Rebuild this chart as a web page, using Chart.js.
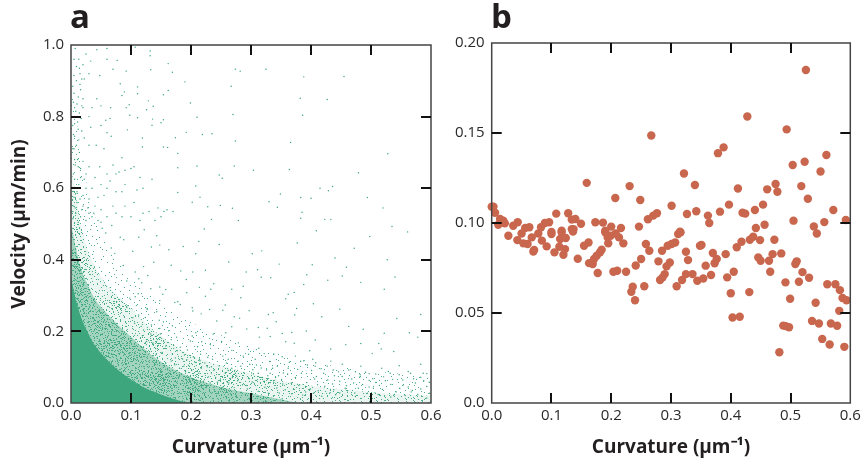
<!DOCTYPE html>
<html><head><meta charset="utf-8">
<script src="https://cdn.jsdelivr.net/npm/chart.js@4"></script>
<style>
html,body{margin:0;padding:0;background:#fff;width:865px;height:459px;overflow:hidden}
canvas{position:absolute;top:0}
#ca{left:0}#cb{left:446px}
.p{position:absolute;top:-7px;font:700 33px "Open Sans",sans-serif;color:#231f20}
</style></head><body>
<canvas id="ca" width="446" height="459"></canvas>
<canvas id="cb" width="419" height="459"></canvas>
<div class="p" style="left:70px">a</div>
<div class="p" style="left:491px">b</div>
<script>
const xTickLabels=['0.0','0.1','0.2','0.3','0.4','0.5','0.6'];
const aYTickLabels=['0.0','0.2','0.4','0.6','0.8','1.0'];
const bYTickLabels=['0.0','0.05','0.10','0.15','0.20'];
const xInnerTicks=[.1,.2,.3,.4,.5];
const aInnerTicks=[.2,.4,.6,.8];
const bInnerTicks=[.05,.1,.15];
const xTitle='Curvature (\u00b5m\u207b\u00b9)';
const yTitle='Velocity (\u00b5m/min)';
// panel a: density contours, densest first
const coreEdge=[[0,.35],[.005,.31],[.01,.275],[.02,.225],[.03,.19],[.04,.16],[.06,.12],[.08,.09],[.1,.065],[.12,.045],[.15,.024],[.17,.012],[.19,.003],[.2,0]];
const denseEdge=[[0,.5],[.01,.42],[.02,.36],[.04,.29],[.06,.25],[.08,.215],[.1,.185],[.13,.14],[.16,.105],[.2,.072],[.25,.045],[.3,.027],[.35,.01],[.38,0]];
const midEdge=[[0,.66],[.01,.56],[.02,.47],[.04,.38],[.06,.33],[.08,.295],[.1,.265],[.13,.215],[.16,.175],[.2,.135],[.25,.105],[.3,.082],[.35,.062],[.4,.048],[.5,.03],[.6,.02]];
const paleEdge=[[0,.88],[.01,.78],[.02,.66],[.04,.52],[.06,.44],[.1,.35],[.15,.28],[.2,.225],[.3,.16],[.4,.115],[.5,.09],[.6,.075]];
// speckle tile for the density bands: pixel offsets, x then y
const speckle=[3,7,41,2,17,29,50,44,8,36,27,11,35,48,12,19,46,25,22,40,31,4,6,51,38,33,14,1,24,20,43,14,1,27,19,46,33,23,10,12,48,6,28,37,5,43,40,39,16,9,37,17,21,32,51,30,9,24,30,45,45,8,13,42,26,2,2,15,35,28,42,49,18,52,7,3,47,35,23,25,32,13,11,32,39,42,0,38,15,15,50,20,29,50,4,22,36,6,20,5,44,31,12,47,33,35,25,43,41,11,8,9,48,47,16,33,28,17,1,50,39,24,21,13,6,30,46,2,31,39,10,5,34,19,23,48,44,18,14,26,3,35,40,46,27,28,52,10,19,40,37,0,9,17,30,7,43,27,5,11,24,34,35,43,49,37,15,45,26,8,0,21,41,33,18,22,32,51,11,41,47,16,22,3,36,31,7,47,29,21,42,5,13,36,51,25,25,52,38,13,4,28,33,10,17,6,45,40,20,44,8,20,31,26,0,44,40,18,14,50,28,31,49,1,23,15,37,38,10,38,3,2,19,25,34,47,46,12,26,39,6,14,42,22,16,52,52,34,12,4,29,42,35,15,21,37,1,9,39,7,9,50,44,45,30,23,18,12,48,29,24,0,33,41,5,35,15,30,38,49,27,18];
// panel a: individually read dots, x then y
const topDots=[.007,.99,.043,.987,.06,.99,.107,.994,.132,.983,.132,.97,.06,.96,.077,.957,.07,.932,.092,.927,.133,.931,.162,.948,.169,.924,.19,.897,.274,.932,.282,.927,.325,.932,.388,.911,.455,.912,.267,.885,.382,.851,.427,.848,.27,.806,.386,.804,.274,.732,.366,.728,.528,.696,.272,.662,.304,.65,.364,.652,.479,.643,.21,.662,.247,.637,.252,.628,.415,.6,.429,.593,.436,.605,.349,.584,.383,.574,.4,.572,.494,.574,.52,.545,.33,.562,.344,.547,.385,.533,.423,.513,.433,.513,.383,.516,.279,.51,.249,.552,.269,.544,.234,.513,.228,.548,.215,.575,.208,.606,.202,.561,.178,.588,.178,.657,.178,.697,.174,.741,.192,.756,.219,.75,.235,.752,.21,.798,.199,.838,.154,.715,.161,.714,.119,.74,.119,.715,.154,.791,.15,.783,.136,.793,.135,.776,.137,.829,.126,.819,.129,.844,.111,.883,.111,.864,.162,.873,.154,.861,.082,.892,.089,.869,.085,.859,.092,.825,.097,.833,.098,.804,.111,.797,.094,.763,.065,.795,.05,.775,.06,.755,.067,.745,.058,.79,.066,.825,.05,.83,.043,.85,.035,.825,.02,.825,.033,.77,.03,.8,.048,.915,.03,.92,.015,.92,.022,.905,.015,.89,.033,.955,.025,.975,.013,.96,.02,.945,.005,.96,.009,.94,.016,.875,.005,.865,.012,.855,.02,.85,.004,.84,.01,.835,.008,.815,.003,.8,.017,.795,.006,.78,.012,.765,.004,.75,.022,.74,.009,.72,.003,.71,.014,.70,.03,.72,.042,.72,.055,.71,.08,.645,.085,.685,.07,.665,.048,.66,.03,.66,.02,.675,.006,.68,.012,.66,.004,.64,.016,.63,.025,.64,.04,.63,.06,.64,.065,.62,.075,.64,.1,.655,.105,.66,.09,.65,.115,.63,.135,.625,.09,.61,.085,.59,.075,.59,.06,.6,.05,.61,.035,.6,.025,.6,.013,.61,.004,.6,.008,.585,.02,.58,.03,.57,.045,.575,.055,.58,.11,.595,.12,.6,.105,.56,.09,.55,.085,.52,.1,.52,.12,.53,.13,.535,.145,.545,.155,.535,.16,.54,.17,.535,.14,.51,.15,.52,.115,.51,.07,.55,.075,.53,.06,.52,.05,.54,.04,.55,.03,.53,.02,.55,.01,.56,.004,.55,.008,.53,.016,.52,.025,.51,.035,.52,.045,.51,.05,.505,.003,.515,.012,.505,.006,.625,.01,.59,.015,.57,.005,.575,.018,.54,.007,.545,.028,.545,.038,.53,.003,.535,.011,.68,.016,.655,.007,.665,.022,.625,.005,.71,.013,.735,.006,.745,.018,.76,.003,.775,.011,.785,.014,.81,.006,.825,.018,.83,.003,.885,.009,.9,.005,.915,.014,.935,.018,.905];
const upperDots=[.535,.493,.561,.478,.498,.465,.472,.432,.409,.481,.377,.447,.44,.405,.459,.379,.527,.4,.54,.352,.522,.318,.483,.337,.452,.355,.428,.343,.402,.386,.388,.331,.393,.358,.318,.425,.347,.388,.302,.417,.311,.372,.292,.366,.317,.351,.263,.394,.247,.443,.222,.486,.213,.451,.208,.417,.187,.437,.203,.366,.224,.371,.238,.333,.268,.318,.287,.326,.333,.35,.362,.304,.372,.309,.404,.277,.376,.264,.358,.291,.337,.252,.373,.246,.342,.227,.329,.247,.297,.258,.283,.294,.257,.274,.233,.318,.214,.323,.192,.345,.183,.369,.167,.385,.163,.428,.148,.441,.143,.467,.122,.484,.113,.463,.134,.436,.138,.393,.121,.381,.103,.424,.088,.456,.082,.463,.068,.496,.058,.475,.052,.488,.067,.433,.073,.418,.087,.384,.107,.366,.113,.347,.128,.356,.148,.324,.158,.317,.178,.283,.193,.308,.202,.266,.224,.298,.231,.261,.253,.259,.272,.241,.281,.237,.312,.211,.327,.209,.352,.194,.368,.197,.392,.201,.418,.241,.448,.262,.463,.214,.487,.206,.513,.166,.522,.195,.543,.236,.583,.247,.578,.184,.564,.196,.517,.151,.538,.144,.502,.138,.483,.166,.458,.163,.433,.151,.407,.176,.398,.146,.372,.167,.358,.171,.332,.186,.314,.184,.293,.207,.268,.213,.258,.196,.243,.229,.217,.249,.203,.257,.182,.275,.173,.281,.153,.304,.148,.286,.133,.319,.118,.336,.112,.305,.093,.341,.107,.297,.127,.264,.143,.255,.147,.231,.169,.216,.237,.193,.202,.187,.208,.196,.218,.171,.232,.163,.251,.172,.268,.147,.279,.168,.296,.136,.313,.153,.322,.138,.338,.137,.352,.129,.374,.131,.388,.118,.403,.122,.407,.103,.433,.117,.437,.092,.452,.108,.474,.087,.483,.103,.497,.082,.518,.097,.532,.083,.547,.104,.562,.088,.583,.108,.593,.082];
const lowDots=[.213,.083,.352,.012,.468,.067,.127,.262,.598,.027,.287,.131,.076,.283,.409,.074,.181,.097,.533,.052,.239,.037,.448,.028,.103,.238,.326,.092,.566,.083,.194,.148,.144,.177,.418,.019,.267,.024,.504,.041,.383,.117,.093,.267,.227,.101,.312,.033,.588,.062,.163,.202,.341,.071,.474,.018,.216,.136,.117,.214,.391,.046,.259,.112,.557,.021,.301,.084,.436,.053,.158,.111,.521,.073,.198,.063,.362,.097,.278,.062,.133,.193,.412,.034,.234,.084,.583,.039,.171,.161,.329,.027,.497,.063,.109,.272,.254,.046,.446,.087,.367,.056,.186,.123,.298,.108,.542,.031,.221,.061,.148,.208,.401,.091,.274,.083,.479,.041,.124,.239,.338,.058,.574,.056,.207,.113,.319,.071,.428,.064,.176,.184,.249,.067,.512,.024,.386,.022,.141,.152,.293,.049,.463,.092,.098,.293,.357,.037,.236,.122,.553,.064,.169,.137,.421,.083,.283,.103,.593,.014,.191,.087,.344,.103,.491,.086,.119,.188,.262,.091,.374,.071,.438,.037,.204,.077,.307,.122,.529,.088,.154,.226,.393,.057,.244,.058,.481,.072,.137,.168,.332,.083,.569,.035,.226,.047,.411,.051,.179,.072,.272,.043,.508,.057,.364,.114,.113,.246,.459,.048,.297,.068,.211,.157,.547,.079,.384,.083,.152,.141,.253,.131,.427,.103,.323,.044,.188,.103,.494,.027,.134,.218,.347,.028,.583,.072,.241,.071,.404,.027,.167,.117,.288,.085,.452,.074,.519,.038,.217,.097,.372,.038,.126,.172,.317,.098,.536,.066,.199,.173,.263,.056,.441,.023,.351,.066,.593,.046,.177,.146,.279,.117,.471,.056,.106,.223,.229,.073,.394,.106,.508,.081,.146,.166,.331,.116,.562,.045,.204,.129,.302,.059,.423,.047,.161,.093,.247,.104,.486,.052,.378,.094,.121,.204,.354,.084,.578,.024,.232,.056,.417,.096,.189,.134,.269,.071,.533,.017,.343,.042,.144,.127,.461,.034,.286,.051,.201,.091,.553,.049,.399,.039,.173,.107,.312,.083,.503,.068,.257,.083,.131,.143,.368,.026,.448,.061,.223,.112,.587,.083,.294,.039,.167,.177,.524,.062,.336,.097,.212,.071,.406,.067,.149,.193,.268,.097,.482,.079,.381,.051,.184,.081,.322,.061,.548,.041,.239,.093,.439,.076,.158,.159,.303,.093,.571,.068,.196,.105,.353,.053,.276,.075,.473,.028,.228,.128,.391,.031,.514,.049,.142,.136,.254,.038,.328,.076,.193,.121,.432,.029,.283,.029,.597,.058,.174,.126,.361,.081,.497,.045,.215,.118,.408,.112,.539,.024,.262,.122,.309,.106,.182,.156,.457,.041,.346,.076,.234,.101,.567,.031];
// panel b: mean velocity against curvature
const bCurv=[.5257,.4277,.4935,.267,.388,.3786,.56,.5236,.5036,.3217,.5502,.159,.2308,.34,.412,.461,.475,.478,.518,.529,.2068,.2486,.301,.397,.454,.5716,.4404,.4197,.4242,.382,.3423,.3267,.3618,.364,.2765,.2703,.2614,.108,.128,.14,.134,.1494,.1734,.1862,.2,.2163,.2464,.134,.137,.505,.5925,.5565,.4566,.442,.539,0,.003,.0056,.014,.0195,.022,.011,.0435,.036,.056,.063,.0825,.089,.096,.1,.117,.19,.315,.0279,.0429,.053,.06,.05,.067,.078,.084,.092,.0697,.071,.1,.1145,.124,.1132,.1227,.105,.12,.117,.136,.144,.1545,.162,.163,.169,.1712,.1757,.1813,.184,.1774,.195,.194,.199,.19,.2036,.21,.2248,.2075,.213,.2203,.241,.25,.236,.2336,.2398,.2553,.258,.2637,.279,.285,.2945,.301,.307,.312,.316,.298,.2925,.2817,.286,.2895,.3095,.3185,.325,.336,.344,.354,.367,.325,.3285,.3485,.351,.358,.37,.3765,.373,.3915,.394,.405,.4,.431,.403,.415,.41,.418,.432,.4375,.449,.446,.45,.464,.47,.466,.473,.4845,.4915,.4993,.4878,.492,.4975,.4813,.5103,.508,.52,.514,.531,.544,.5615,.575,.5826,.587,.5936,.5815,.542,.536,.5475,.5675,.578,.553,.5655,.59];
const bVel=[.185,.1592,.152,.1486,.142,.1388,.1378,.134,.1322,.1275,.1286,.1223,.1205,.1211,.1192,.1187,.1217,.1174,.1205,.1135,.1139,.1128,.1096,.1102,.1102,.1072,.1072,.1057,.1052,.1063,.1065,.105,.1041,.1,.1054,.1041,.1021,.1052,.1054,.1022,.1019,.0996,.1004,.1002,.098,.0972,.098,.0966,.0966,.1013,.1017,.1005,.099,.0972,.0981,.109,.1091,.1057,.1022,.1013,.0998,.099,.1004,.0985,.0972,.0976,.0976,.1,.1004,.095,.0957,.0957,.0952,.0929,.0905,.0887,.0883,.0942,.092,.0942,.0902,.087,.0842,.085,.0939,.0911,.0917,.0868,.0855,.0837,.0824,.0948,.0952,.0801,.0874,.0892,.0777,.0772,.08,.0818,.0837,.0852,.0722,.0887,.092,.0929,.0948,.0729,.0735,.0729,.0942,.092,.0887,.0764,.08,.0646,.0618,.0571,.0649,.0883,.0846,.0787,.0846,.0874,.0883,.0892,.0939,.0948,.0781,.0759,.0683,.0698,.0716,.0649,.0683,.0716,.0716,.0679,.0692,.0711,.084,.0794,.0874,.0878,.0763,.0833,.08,.0776,.0827,.0698,.0729,.061,.0616,.0475,.0479,.0865,.0896,.0907,.0924,.0905,.0809,.079,.079,.0827,.0729,.0907,.0831,.067,.0579,.043,.0427,.0421,.0282,.0787,.0772,.0727,.0674,.0696,.0942,.066,.066,.0627,.0583,.0571,.0512,.0557,.0456,.0442,.0442,.0429,.0356,.0325,.0312];

const GREEN='#3da67c',RED='#c9674e',INK='#2b292a';
const FONT='"Open Sans",sans-serif';
const pairs=f=>f.reduce((o,v,i)=>{if(i%2==0)o.push({x:v,y:f[i+1]});return o},[]);
const edge=e=>e.map(p=>({x:p[0],y:p[1]}));
const innerTicks=(xv,yv)=>({id:'innerTicks',afterDraw(c){
  const {ctx,chartArea:a,scales:{x,y}}=c;ctx.save();ctx.strokeStyle='#111';ctx.lineWidth=2;ctx.beginPath();
  xv.forEach(v=>{const p=Math.round(x.getPixelForValue(v));ctx.moveTo(p,a.top);ctx.lineTo(p,a.top+10);ctx.moveTo(p,a.bottom);ctx.lineTo(p,a.bottom-10)});
  yv.forEach(v=>{const p=Math.round(y.getPixelForValue(v));ctx.moveTo(a.left,p);ctx.lineTo(a.left+10,p);ctx.moveTo(a.right,p);ctx.lineTo(a.right-10,p)});
  ctx.stroke();ctx.restore();
}});
const frame={id:'frame',afterDatasetsDraw(c){const {ctx,chartArea:a}=c;ctx.save();ctx.strokeStyle='#444';ctx.lineWidth=1.5;ctx.strokeRect(a.left,a.top,a.width,a.height);ctx.restore()}};
function axes(yMax,yLabels,showY,left){
  return {
    x:{type:'linear',min:0,max:.6,
      afterBuildTicks:s=>{s.ticks=xTickLabels.map(t=>({value:+t}))},
      ticks:{autoSkip:false,maxRotation:0,padding:4,color:INK,font:{family:FONT,size:15},callback:v=>xTickLabels.find(t=>+t===v)},
      grid:{display:false,drawTicks:false},border:{display:false},
      title:{display:true,text:xTitle,color:'#231f20',font:{family:FONT,size:19,weight:'700'},padding:{top:9,bottom:0}},
      afterFit:s=>{s.height=56}},
    y:{type:'linear',min:0,max:yMax,
      afterBuildTicks:s=>{s.ticks=yLabels.map(t=>({value:+t}))},
      ticks:{autoSkip:false,padding:7,color:INK,font:{family:FONT,size:15},callback:v=>yLabels.find(t=>+t===v)},
      grid:{display:false,drawTicks:false},border:{display:false},
      title:{display:showY,text:yTitle,color:'#231f20',font:{family:FONT,size:19,weight:'700'},padding:{top:0,bottom:1}},
      afterFit:s=>{s.width=left}}
  };
}
function texture(size,count,base){
  const c=document.createElement('canvas');c.width=c.height=size;
  const g=c.getContext('2d');
  if(base){g.fillStyle=base;g.fillRect(0,0,size,size)}
  g.fillStyle='rgba(61,166,124,.9)';
  for(let i=0;i<count;i++)g.fillRect(speckle[2*i]%size,speckle[2*i+1]%size,1,1);
  return g.createPattern(c,'repeat');
}
const dot={pointRadius:.72,pointBorderWidth:0,pointBackgroundColor:GREEN};
const band=(e,c)=>({data:edge(e),showLine:true,fill:'origin',backgroundColor:c,borderWidth:0,pointRadius:0,tension:.3});
new Chart(document.getElementById('ca'),{type:'scatter',
  data:{datasets:[
    {data:pairs(lowDots),...dot},{data:pairs(upperDots),...dot},{data:pairs(topDots),...dot},
    band(coreEdge,GREEN),
    band(denseEdge,texture(31,140,'rgba(61,166,124,.42)')),
    band(midEdge,texture(37,140,'rgba(61,166,124,.1)')),
    band(paleEdge,texture(53,100,null))
  ]},
  options:{responsive:false,animation:false,events:[],
    layout:{padding:{left:8,right:15,top:45,bottom:0}},
    plugins:{legend:{display:false},tooltip:{enabled:false}},
    scales:axes(1,aYTickLabels,true,63)},
  plugins:[frame,innerTicks(xInnerTicks,aInnerTicks)]});
new Chart(document.getElementById('cb'),{type:'scatter',
  data:{datasets:[{data:bCurv.map((x,i)=>({x,y:bVel[i]})),clip:false,pointRadius:4.2,pointBorderWidth:0,pointBackgroundColor:RED}]},
  options:{responsive:false,animation:false,events:[],
    layout:{padding:{left:0,right:14.7,top:43,bottom:0}},
    plugins:{legend:{display:false},tooltip:{enabled:false}},
    scales:axes(.2,bYTickLabels,false,45.7)},
  plugins:[frame,innerTicks(xInnerTicks,bInnerTicks)]});
</script></body></html>
